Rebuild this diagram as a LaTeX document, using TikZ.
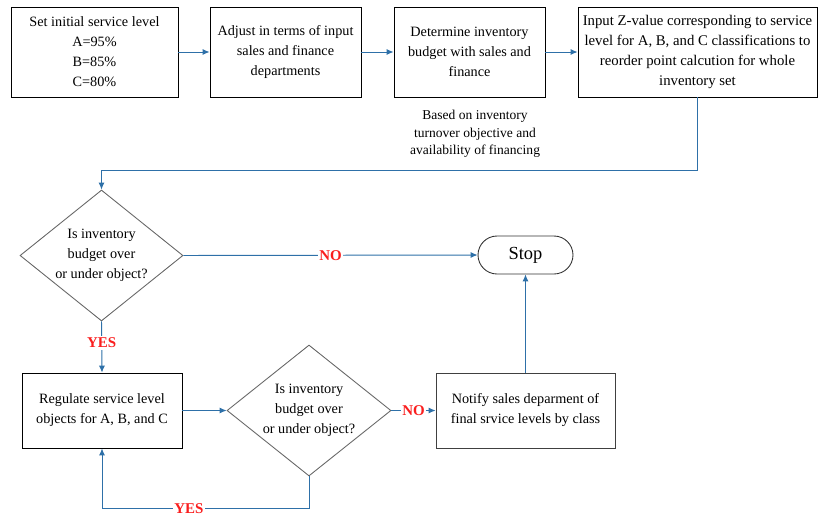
\documentclass[tikz,border=0pt]{standalone}
\usepackage{fontspec}
\setmainfont{Liberation Serif}
\usetikzlibrary{shapes.geometric, arrows.meta}
\definecolor{flowblue}{RGB}{46,112,168}
\definecolor{answerred}{RGB}{250,30,30}

\begin{document}
\begin{tikzpicture}[
        x=0.02cm, y=-0.02cm,
        box/.style={rectangle, draw, line width=0.5pt, align=center, inner sep=1pt, font=\fontsize{8.1}{11.4}\selectfont},
        decision/.style={diamond, draw=black!60, line width=0.5pt, aspect=1.25, inner sep=0pt, align=center,
            minimum width=3.26cm, minimum height=2.62cm, font=\fontsize{8.1}{11.4}\selectfont},
        terminal/.style={rectangle, rounded corners=3.8mm, draw=black!80, line width=0.5pt,
            minimum width=1.9cm, minimum height=0.76cm, font=\fontsize{10.5}{12}\selectfont},
        flow/.style={draw=flowblue, line width=0.55pt, -{Latex[length=4pt,width=3.5pt]}},
        answer/.style={font=\fontsize{8.5}{10}\selectfont\bfseries, text=answerred, fill=white, inner sep=1pt},
        note/.style={align=center, font=\fontsize{7.7}{10}\selectfont}
    ]
        \useasboundingbox (0,0) rectangle (819,515);

        % Top row of steps
        \node[box, minimum width=3.34cm, minimum height=1.8cm] (setlevel) at (94.5,52) {Set initial service level\\A=95\%\\B=85\%\\C=80\%};
        \node[box, minimum width=3.02cm, minimum height=1.8cm] (adjust) at (285.5,52) {Adjust in terms of input\\sales and finance\\departments};
        \node[box, minimum width=3.02cm, minimum height=1.8cm] (budget) at (469.5,52) {Determine inventory\\budget with sales and\\finance};
        \node[box, minimum width=4.78cm, minimum height=1.8cm, font=\fontsize{8.4}{11.4}\selectfont] (zvalue) at (697.5,52) {Input Z-value corresponding to service\\level for A, B, and C classifications to\\reorder point calcution for whole\\inventory set};

        % Note under the budget step
        \node[note] (basis) at (475,134) {Based on inventory\\turnover objective and\\availability of financing};

        % Decisions, stop and lower steps
        \node[decision] (check1) at (101.5,255.5) {Is inventory\\budget over\\or under object?};
        \node[terminal] (stop) at (525.5,255) {Stop};
        \node[box, minimum width=3.2cm, minimum height=1.5cm] (regulate) at (102,410.5) {Regulate service level\\objects for A, B, and C};
        \node[decision, minimum width=3.28cm] (check2) at (309,410.5) {Is inventory\\budget over\\or under object?};
        \node[box, draw=black!75, minimum width=3.58cm, minimum height=1.5cm] (notify) at (525.5,410.5) {Notify sales deparment of\\final srvice levels by class};

        % Connectors of the top row
        \draw[flow] (setlevel) -- (adjust);
        \draw[flow] (adjust) -- (budget);
        \draw[flow] (budget) -- (zvalue);
        \draw[flow] (zvalue.south) -- ++(0,73) -| (check1.north);

        % Connectors of the decisions
        \draw[flow] (check1.east) -- node[answer, midway] {NO} (stop.west);
        \draw[flow] (check1.south) -- node[answer, pos=0.42] {YES} (regulate.north);
        \draw[flow] (regulate.east) -- (check2.west);
        \draw[flow] (check2.south) -- ++(0,32) -| node[answer, pos=0.29] {YES} (regulate.south);
        \draw[flow] (check2.east) -- node[answer, midway] {NO} (notify.west);
        \draw[flow] (notify.north) -- (stop.south);
    \end{tikzpicture}
\end{document}
